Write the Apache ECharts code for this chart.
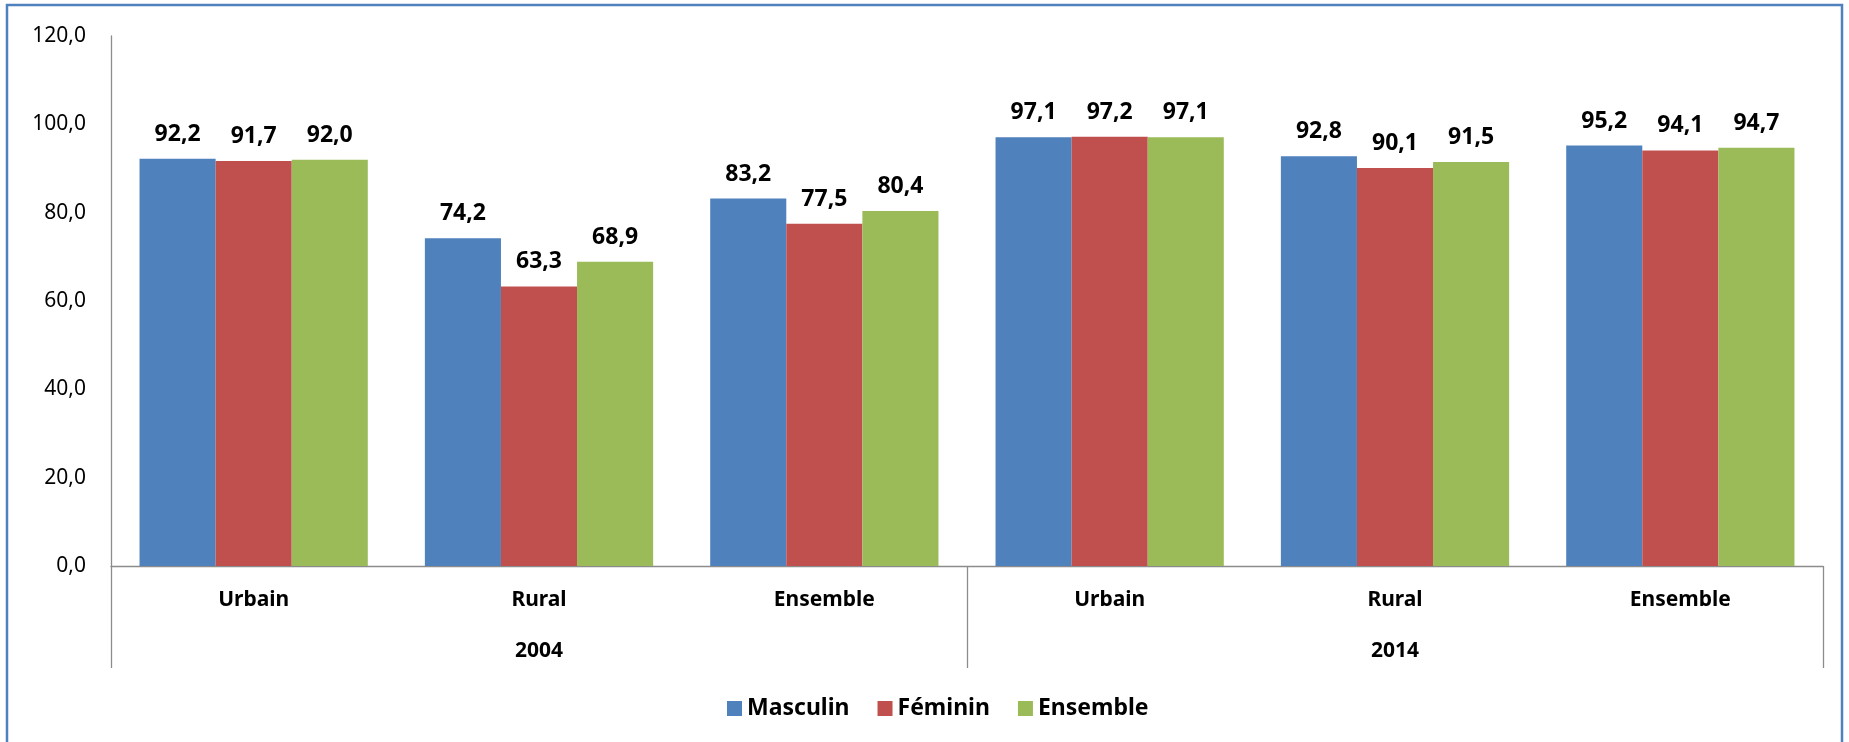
<!DOCTYPE html>
<html>
<head>
<meta charset="utf-8">
<script src="https://cdn.jsdelivr.net/npm/echarts@6/dist/echarts.min.js"></script>
<style>
  html, body { margin: 0; padding: 0; background: #fff; }
  #chart { width: 1849px; height: 742px; }
</style>
</head>
<body>
<div id="chart"></div>
<script>
// chart data
var milieux = ['Urbain', 'Rural', 'Ensemble', 'Urbain', 'Rural', 'Ensemble']
var annees = ['2004', '2014']
var masculin = [92.2, 74.2, 83.2, 97.1, 92.8, 95.2]
var feminin = [91.7, 63.3, 77.5, 97.2, 90.1, 94.1]
var ensemble = [92.0, 68.9, 80.4, 97.1, 91.5, 94.7]
var yTicks = { min: 0, max: 120, interval: 20 }

var font = '"Noto Sans", "Open Sans", sans-serif'
var grey = '#8c8c8c'

function virgule(v) {
  return v.toFixed(1).replace('.', ',')
}

function makeSeries(name, data) {
  return {
    name: name,
    type: 'bar',
    barGap: '0%',
    barCategoryGap: '20%',
    xAxisIndex: 0,
    data: data,
    label: {
      show: true,
      position: 'top',
      distance: 13,
      color: '#000',
      fontFamily: font,
      fontWeight: 'bold',
      fontSize: 23,
      formatter: function (p) { return virgule(p.value) }
    }
  }
}

var chart = echarts.init(document.getElementById('chart'), null, { renderer: 'canvas' })
chart.setOption({
  animation: false,
  color: ['#4F81BD', '#C0504D', '#9BBB59'],
  graphic: [{
    type: 'rect',
    shape: { x: 7, y: 5, width: 1835, height: 780 },
    style: { fill: 'none', stroke: '#4F81BD', lineWidth: 2.5 },
    silent: true
  }],
  grid: { left: 111, right: 26, top: 36, bottom: 176 },
  legend: {
    left: 722,
    top: 692,
    itemWidth: 15,
    itemHeight: 15,
    itemGap: 28,
    icon: 'rect',
    textStyle: { fontFamily: font, fontWeight: 'bold', fontSize: 23, color: '#000' },
    data: ['Masculin', 'Féminin', 'Ensemble']
  },
  xAxis: [{
    type: 'category',
    data: milieux,
    axisLine: { show: true, lineStyle: { color: grey, width: 1.3 } },
    axisTick: { show: false },
    axisLabel: {
      margin: 24,
      color: '#000',
      fontFamily: font,
      fontWeight: 'bold',
      fontSize: 21
    }
  }, {
    type: 'category',
    position: 'bottom',
    data: annees,
    axisLine: { show: false },
    axisTick: { show: true, length: 102, lineStyle: { color: grey, width: 1.3 } },
    axisLabel: {
      margin: 75,
      color: '#000',
      fontFamily: font,
      fontWeight: 'bold',
      fontSize: 21
    }
  }],
  yAxis: {
    type: 'value',
    min: yTicks.min,
    max: yTicks.max,
    interval: yTicks.interval,
    axisLine: { show: true, lineStyle: { color: grey, width: 1.3 } },
    axisTick: { show: false },
    splitLine: { show: false },
    axisLabel: {
      margin: 25,
      color: '#000',
      fontFamily: font,
      fontSize: 21,
      formatter: function (v) { return virgule(v) }
    }
  },
  series: [
    makeSeries('Masculin', masculin),
    makeSeries('Féminin', feminin),
    makeSeries('Ensemble', ensemble)
  ]
})
</script>
</body>
</html>
